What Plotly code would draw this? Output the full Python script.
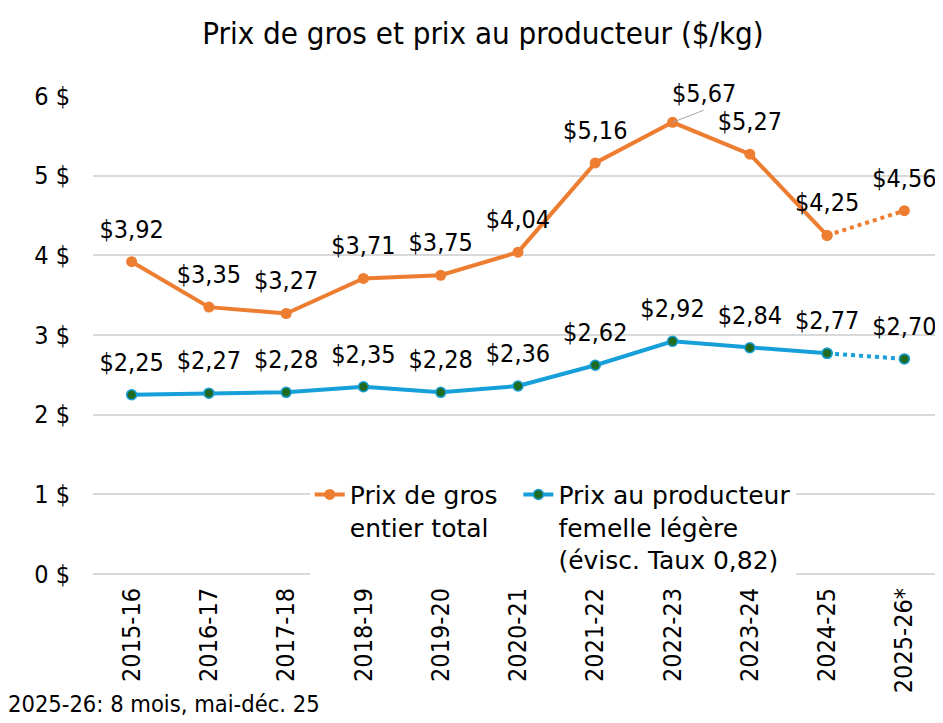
import plotly.graph_objects as go

categories = ["2015-16", "2016-17", "2017-18", "2018-19", "2019-20", "2020-21",
              "2021-22", "2022-23", "2023-24", "2024-25", "2025-26*"]
gros = [3.92, 3.35, 3.27, 3.71, 3.75, 4.04, 5.16, 5.67, 5.27, 4.25, 4.56]
producteur = [2.25, 2.27, 2.28, 2.35, 2.28, 2.36, 2.62, 2.92, 2.84, 2.77, 2.70]
y_ticks = [0, 1, 2, 3, 4, 5, 6]
y_tick_labels = ["0 $", "1 $", "2 $", "3 $", "4 $", "5 $", "6 $"]

ORANGE = "#ED7D31"
BLUE = "#169FD9"
GREEN = "#1F6B22"
FONT = "DejaVu Sans Condensed, Liberation Sans"
LEGEND_FONT = "DejaVu Sans, Liberation Sans"

def lab(v):
    return "$" + f"{v:.2f}".replace(".", ",")

fig = go.Figure()

n_solid = 10
g_text = [lab(v) for v in gros]
p_text = [lab(v) for v in producteur]

# lines and markers
fig.add_trace(go.Scatter(
    x=categories[:n_solid], y=gros[:n_solid], mode="lines+markers",
    name="Prix de gros\u00a0\u00a0<br>entier total",
    line=dict(color=ORANGE, width=4),
    marker=dict(color=ORANGE, size=11),
))
fig.add_trace(go.Scatter(
    x=categories[n_solid - 1:], y=gros[n_solid - 1:], mode="lines+markers",
    showlegend=False,
    line=dict(color=ORANGE, width=4, dash="dot"),
    marker=dict(color=ORANGE, size=11),
))
fig.add_trace(go.Scatter(
    x=categories[:n_solid], y=producteur[:n_solid], mode="lines+markers",
    name="Prix au producteur<br>femelle légère<br>(évisc. Taux 0,82)",
    line=dict(color=BLUE, width=4),
    marker=dict(color=GREEN, size=10, line=dict(color=BLUE, width=1.5)),
))
fig.add_trace(go.Scatter(
    x=categories[n_solid - 1:], y=producteur[n_solid - 1:], mode="lines+markers",
    showlegend=False,
    line=dict(color=BLUE, width=4, dash="dot"),
    marker=dict(color=GREEN, size=10, line=dict(color=BLUE, width=1.5)),
))

# data labels (invisible larger markers push the text a little higher)
g_label_text = list(g_text)
g_label_text[7] = ""  # 5,67 drawn with a leader line
for ys, ts in ((gros, g_label_text), (producteur, p_text)):
    fig.add_trace(go.Scatter(
        x=categories, y=ys, mode="markers+text", showlegend=False,
        marker=dict(size=27, color="rgba(0,0,0,0)"),
        text=ts, textposition="top center",
        textfont=dict(size=25, color="#000000", family=FONT),
        hoverinfo="skip", cliponaxis=False,
    ))

fig.add_annotation(
    x=categories[7], y=gros[7], text=lab(gros[7]),
    showarrow=True, arrowhead=0, arrowwidth=1, arrowcolor="#A6A6A6",
    ax=31, ay=-12, xanchor="center", yanchor="bottom",
    font=dict(size=25, color="#000000", family=FONT),
)

fig.add_annotation(
    x=-0.102, y=-0.305, xref="paper", yref="paper", xanchor="left", yanchor="bottom",
    text="2025-26: 8 mois, mai-déc. 25", showarrow=False,
    font=dict(size=23.5, color="#000000", family=FONT),
)

# page body adds an 8px margin: size the figure so the plot lands where the reference has it
fig.update_layout(
    width=935, height=715,
    paper_bgcolor="white", plot_bgcolor="white",
    margin=dict(l=85, r=0, t=88, b=149, autoexpand=False),
    title=dict(text="Prix de gros et prix au producteur ($/kg)",
               x=0.508, xanchor="center", y=0.965, yanchor="middle",
               font=dict(size=31, color="#000000", family=FONT)),
    font=dict(family=FONT, color="#000000"),
    legend=dict(orientation="h", x=0.255, y=0.214, xanchor="left", yanchor="top",
                bgcolor="white", valign="top",
                font=dict(size=25, color="#000000", family=LEGEND_FONT),
                tracegroupgap=0),
    xaxis=dict(type="category", range=[-0.5, 10.5], tickangle=-90, showgrid=False,
               showline=False, ticks="", automargin=False,
               ticklabelstandoff=8,
               tickfont=dict(size=25, color="#000000", family=FONT)),
    yaxis=dict(range=[0, 6], tickvals=y_ticks, ticktext=y_tick_labels,
               showgrid=True, gridcolor="#D9D9D9", gridwidth=1.5,
               zeroline=True, zerolinecolor="#D9D9D9", zerolinewidth=1.5,
               showline=False, ticks="", automargin=False,
               ticklabelstandoff=22,
               tickfont=dict(size=25, color="#000000", family=FONT)),
)

fig.write_html("out.html")
